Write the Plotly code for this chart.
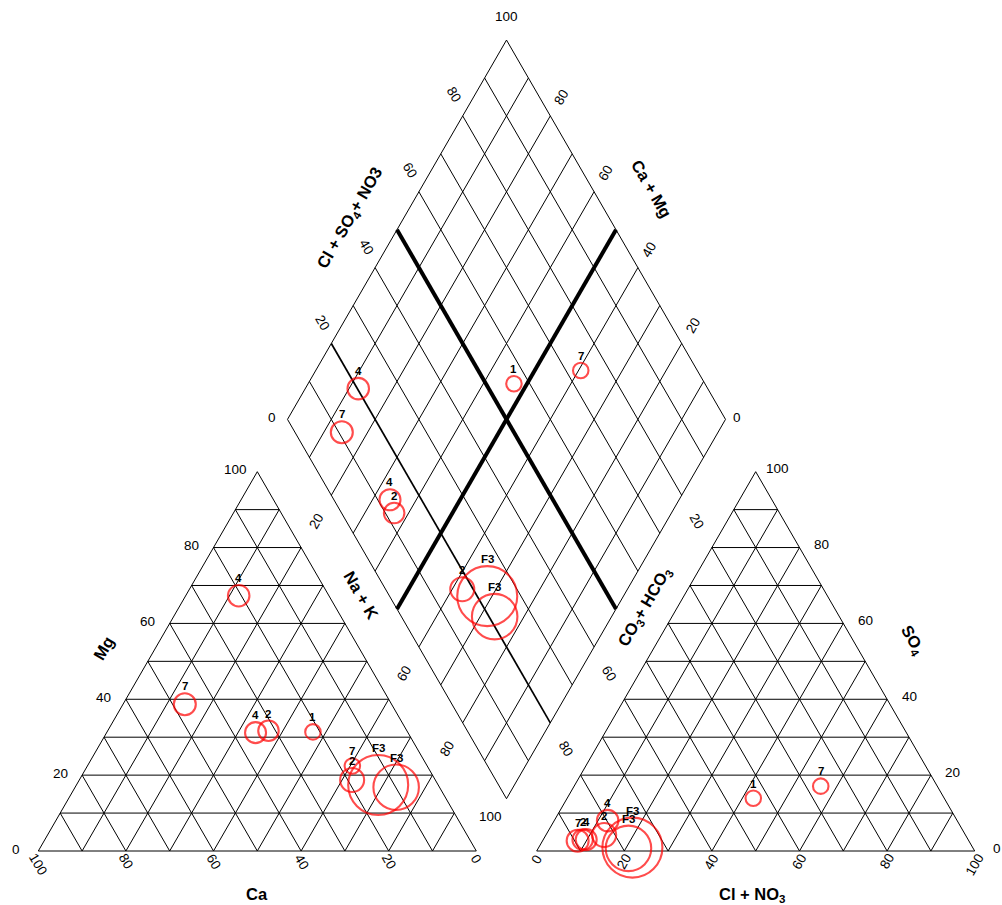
import math
import plotly.graph_objects as go

# ---------------- data ----------------
sample_labels = ["1", "2", "2", "4", "4", "7", "7", "F3", "F3"]
ca_pct = [21.6, 31.6, 19.0, 20.6, 34.8, 47.2, 17.1, 13.7, 9.9]
mg_pct = [31.4, 31.7, 18.7, 67.3, 31.2, 38.7, 22.4, 17.4, 16.8]
cl_no3_pct = [42.5, 9.0, 13.3, 12.2, 9.8, 8.0, 56.3, 21.4, 20.6]
so4_pct = [13.9, 3.0, 4.2, 8.0, 3.0, 2.7, 17.1, 0.9, 0.7]
tds_rel = [155, 205, 240, 215, 210, 220, 155, 600, 455]

tick_values = [0, 20, 40, 60, 80, 100]
grid_steps = [10, 20, 30, 40, 50, 60, 70, 80, 90]

# ---------------- geometry ----------------
PX = 4.38                 # pixels per percent unit
H = math.sqrt(3) / 2
GAP = 13.79               # gap between triangles (units)
BX, BY = 100 + GAP / 2, GAP * H
FONT = "Liberation Sans, Arial, sans-serif"


def cat_xy(ca, mg):
    nak = 100 - ca - mg
    return nak + mg / 2, mg * H


def an_xy(cl, so4):
    return 100 + GAP + cl + so4 / 2, so4 * H


def dia_xy(c, a):
    return BX + 0.5 * (a - (100 - c)), BY + H * (a + 100 - c)


def seg_list(segs):
    xs, ys = [], []
    for (x1, y1), (x2, y2) in segs:
        xs += [x1, x2, None]
        ys += [y1, y2, None]
    return xs, ys


thin = []
# left (cation) triangle
thin += [(cat_xy(100, 0), cat_xy(0, 0)), (cat_xy(0, 0), cat_xy(0, 100)), (cat_xy(0, 100), cat_xy(100, 0))]
for k in grid_steps:
    thin.append((cat_xy(100 - k, k), cat_xy(0, k)))          # Mg const
    thin.append((cat_xy(k, 0), cat_xy(k, 100 - k)))          # Ca const
    thin.append((cat_xy(100 - k, 0), cat_xy(0, 100 - k)))    # NaK const
# right (anion) triangle
thin += [(an_xy(0, 0), an_xy(100, 0)), (an_xy(100, 0), an_xy(0, 100)), (an_xy(0, 100), an_xy(0, 0))]
for k in grid_steps:
    thin.append((an_xy(0, k), an_xy(100 - k, k)))            # SO4 const
    thin.append((an_xy(k, 0), an_xy(k, 100 - k)))            # Cl const
    thin.append((an_xy(0, 100 - k), an_xy(100 - k, 0)))      # HCO3 const
# diamond
thin += [(dia_xy(100, 0), dia_xy(0, 0)), (dia_xy(0, 0), dia_xy(0, 100)),
         (dia_xy(0, 100), dia_xy(100, 100)), (dia_xy(100, 100), dia_xy(100, 0))]
for k in grid_steps:
    thin.append((dia_xy(k, 0), dia_xy(k, 100)))
    if k != 20:
        thin.append((dia_xy(0, k), dia_xy(100, k)))

fig = go.Figure()
tx, ty = seg_list(thin)
fig.add_trace(go.Scatter(x=tx, y=ty, mode="lines", line=dict(color="black", width=1),
                         hoverinfo="skip", showlegend=False))
mx, my = seg_list([(dia_xy(0, 20), dia_xy(100, 20))])
fig.add_trace(go.Scatter(x=mx, y=my, mode="lines", line=dict(color="black", width=1.7),
                         hoverinfo="skip", showlegend=False))
kx, ky = seg_list([(dia_xy(0, 50), dia_xy(100, 50)), (dia_xy(50, 0), dia_xy(50, 100))])
fig.add_trace(go.Scatter(x=kx, y=ky, mode="lines", line=dict(color="black", width=4),
                         hoverinfo="skip", showlegend=False))

# ---------------- samples ----------------
nak_pct = [100 - c - m for c, m in zip(ca_pct, mg_pct)]
anion_sum = [c + s for c, s in zip(cl_no3_pct, so4_pct)]
sizes = [t / 10 for t in tds_rel]

pts_x, pts_y = [], []
for i in range(len(sample_labels)):
    for (x, y) in (cat_xy(ca_pct[i], mg_pct[i]), an_xy(cl_no3_pct[i], so4_pct[i]),
                   dia_xy(nak_pct[i], anion_sum[i])):
        pts_x.append(x)
        pts_y.append(y)
sz3 = [s for s in sizes for _ in range(3)]
lb3 = [l for l in sample_labels for _ in range(3)]
fig.add_trace(go.Scatter(x=pts_x, y=pts_y, mode="markers",
                         marker=dict(symbol="circle-open", size=sz3, color="#ff0000",
                                     line=dict(color="#ff0000", width=2.1)),
                         hoverinfo="skip", showlegend=False))

ann = []


def add_text(x, y, text, size=13.5, angle=0, xs=0, ys=0, bold=False, xanchor="center"):
    ann.append(dict(x=x, y=y, text=("<b>%s</b>" % text) if bold else text, showarrow=False,
                    textangle=angle, xshift=xs, yshift=ys, xanchor=xanchor, yanchor="middle",
                    font=dict(family=FONT, size=size, color="black")))


for x, y, s, l in zip(pts_x, pts_y, sz3, lb3):
    add_text(x, y, l, size=11.5, ys=s / 2 + 7, bold=True)

# ---------------- tick labels ----------------
for k in tick_values:
    t = str(k)
    x, y = cat_xy(100 - k, k)
    add_text(x, y, t, xs=-22, ys=2)
    x, y = cat_xy(k, 0)
    add_text(x, y, t, angle=60, ys=-(6 + 2.4 * len(t)))
    x, y = an_xy(100 - k, k)
    add_text(x, y, t, xs=22, ys=3)
    x, y = an_xy(k, 0)
    add_text(x, y, t, angle=-60, ys=-(6 + 2.4 * len(t)))

for k in [20, 40, 60, 80]:
    t = str(k)
    x, y = dia_xy(0, k)
    add_text(x, y, t, angle=60, xs=-9, ys=21)
    x, y = dia_xy(100 - k, 100)
    add_text(x, y, t, angle=-60, xs=11, ys=18.5)
x, y = dia_xy(0, 0)
add_text(x, y, "0", xs=-15.5, ys=2)
x, y = dia_xy(100, 100)
add_text(x, y, "0", xs=11.5, ys=2)
x, y = dia_xy(0, 100)
add_text(x, y, "100", ys=24)
x, y = dia_xy(100, 0)
add_text(x, y, "100", xs=-16, ys=-18)

for k in [20, 60, 80]:
    t = str(k)
    x1, y1 = cat_xy(0, 100 - k)
    x2, y2 = dia_xy(k, 0)
    add_text((x1 + x2) / 2, (y1 + y2) / 2, t, angle=-60)
    x1, y1 = an_xy(0, 100 - k)
    x2, y2 = dia_xy(100, 100 - k)
    add_text((x1 + x2) / 2, (y1 + y2) / 2, t, angle=60)

# ---------------- axis titles ----------------
x1, y1 = cat_xy(0, 60)
x2, y2 = dia_xy(40, 0)
add_text((x1 + x2) / 2, (y1 + y2) / 2, "Na + K", size=16.5, angle=60, xs=1, ys=2, bold=True)
x1, y1 = an_xy(0, 60)
x2, y2 = dia_xy(100, 60)
add_text((x1 + x2) / 2, (y1 + y2) / 2, "CO<sub>3</sub>+ HCO<sub>3</sub>", size=16.5, angle=-60,
         xs=-8, ys=-10, bold=True)
x, y = cat_xy(50, 50)
add_text(x, y, "Mg", size=16.5, angle=-60, xs=-44, ys=13, bold=True)
x, y = an_xy(50, 50)
add_text(x, y, "SO<sub>4</sub>", size=16.5, angle=60, xs=47, ys=21, bold=True)
x, y = cat_xy(50, 0)
add_text(x, y, "Ca", size=16.5, ys=-43, bold=True)
x, y = an_xy(50, 0)
add_text(x, y, "Cl + NO<sub>3</sub>", size=16.5, xs=-4, ys=-44, bold=True)
x, y = dia_xy(0, 50)
add_text(x, y, "Cl + SO<sub>4</sub>+ NO3", size=16.5, angle=-60, xs=-47, ys=12, bold=True)
x, y = dia_xy(50, 100)
add_text(x, y, "Ca + Mg", size=16.5, angle=60, xs=36, ys=41, bold=True)

fig.update_layout(
    width=1002, height=905, margin=dict(l=0, r=0, t=0, b=0),
    paper_bgcolor="white", plot_bgcolor="white", showlegend=False,
    xaxis=dict(range=[-38.3 / PX, (1002 - 38.3) / PX], visible=False, fixedrange=True),
    yaxis=dict(range=[-(905 - 851) / PX, 851 / PX], visible=False, fixedrange=True),
    annotations=ann,
)
fig.write_html("out.html", config={"displayModeBar": False},
               post_script="document.body.style.margin='0';document.body.style.overflow='hidden';")
